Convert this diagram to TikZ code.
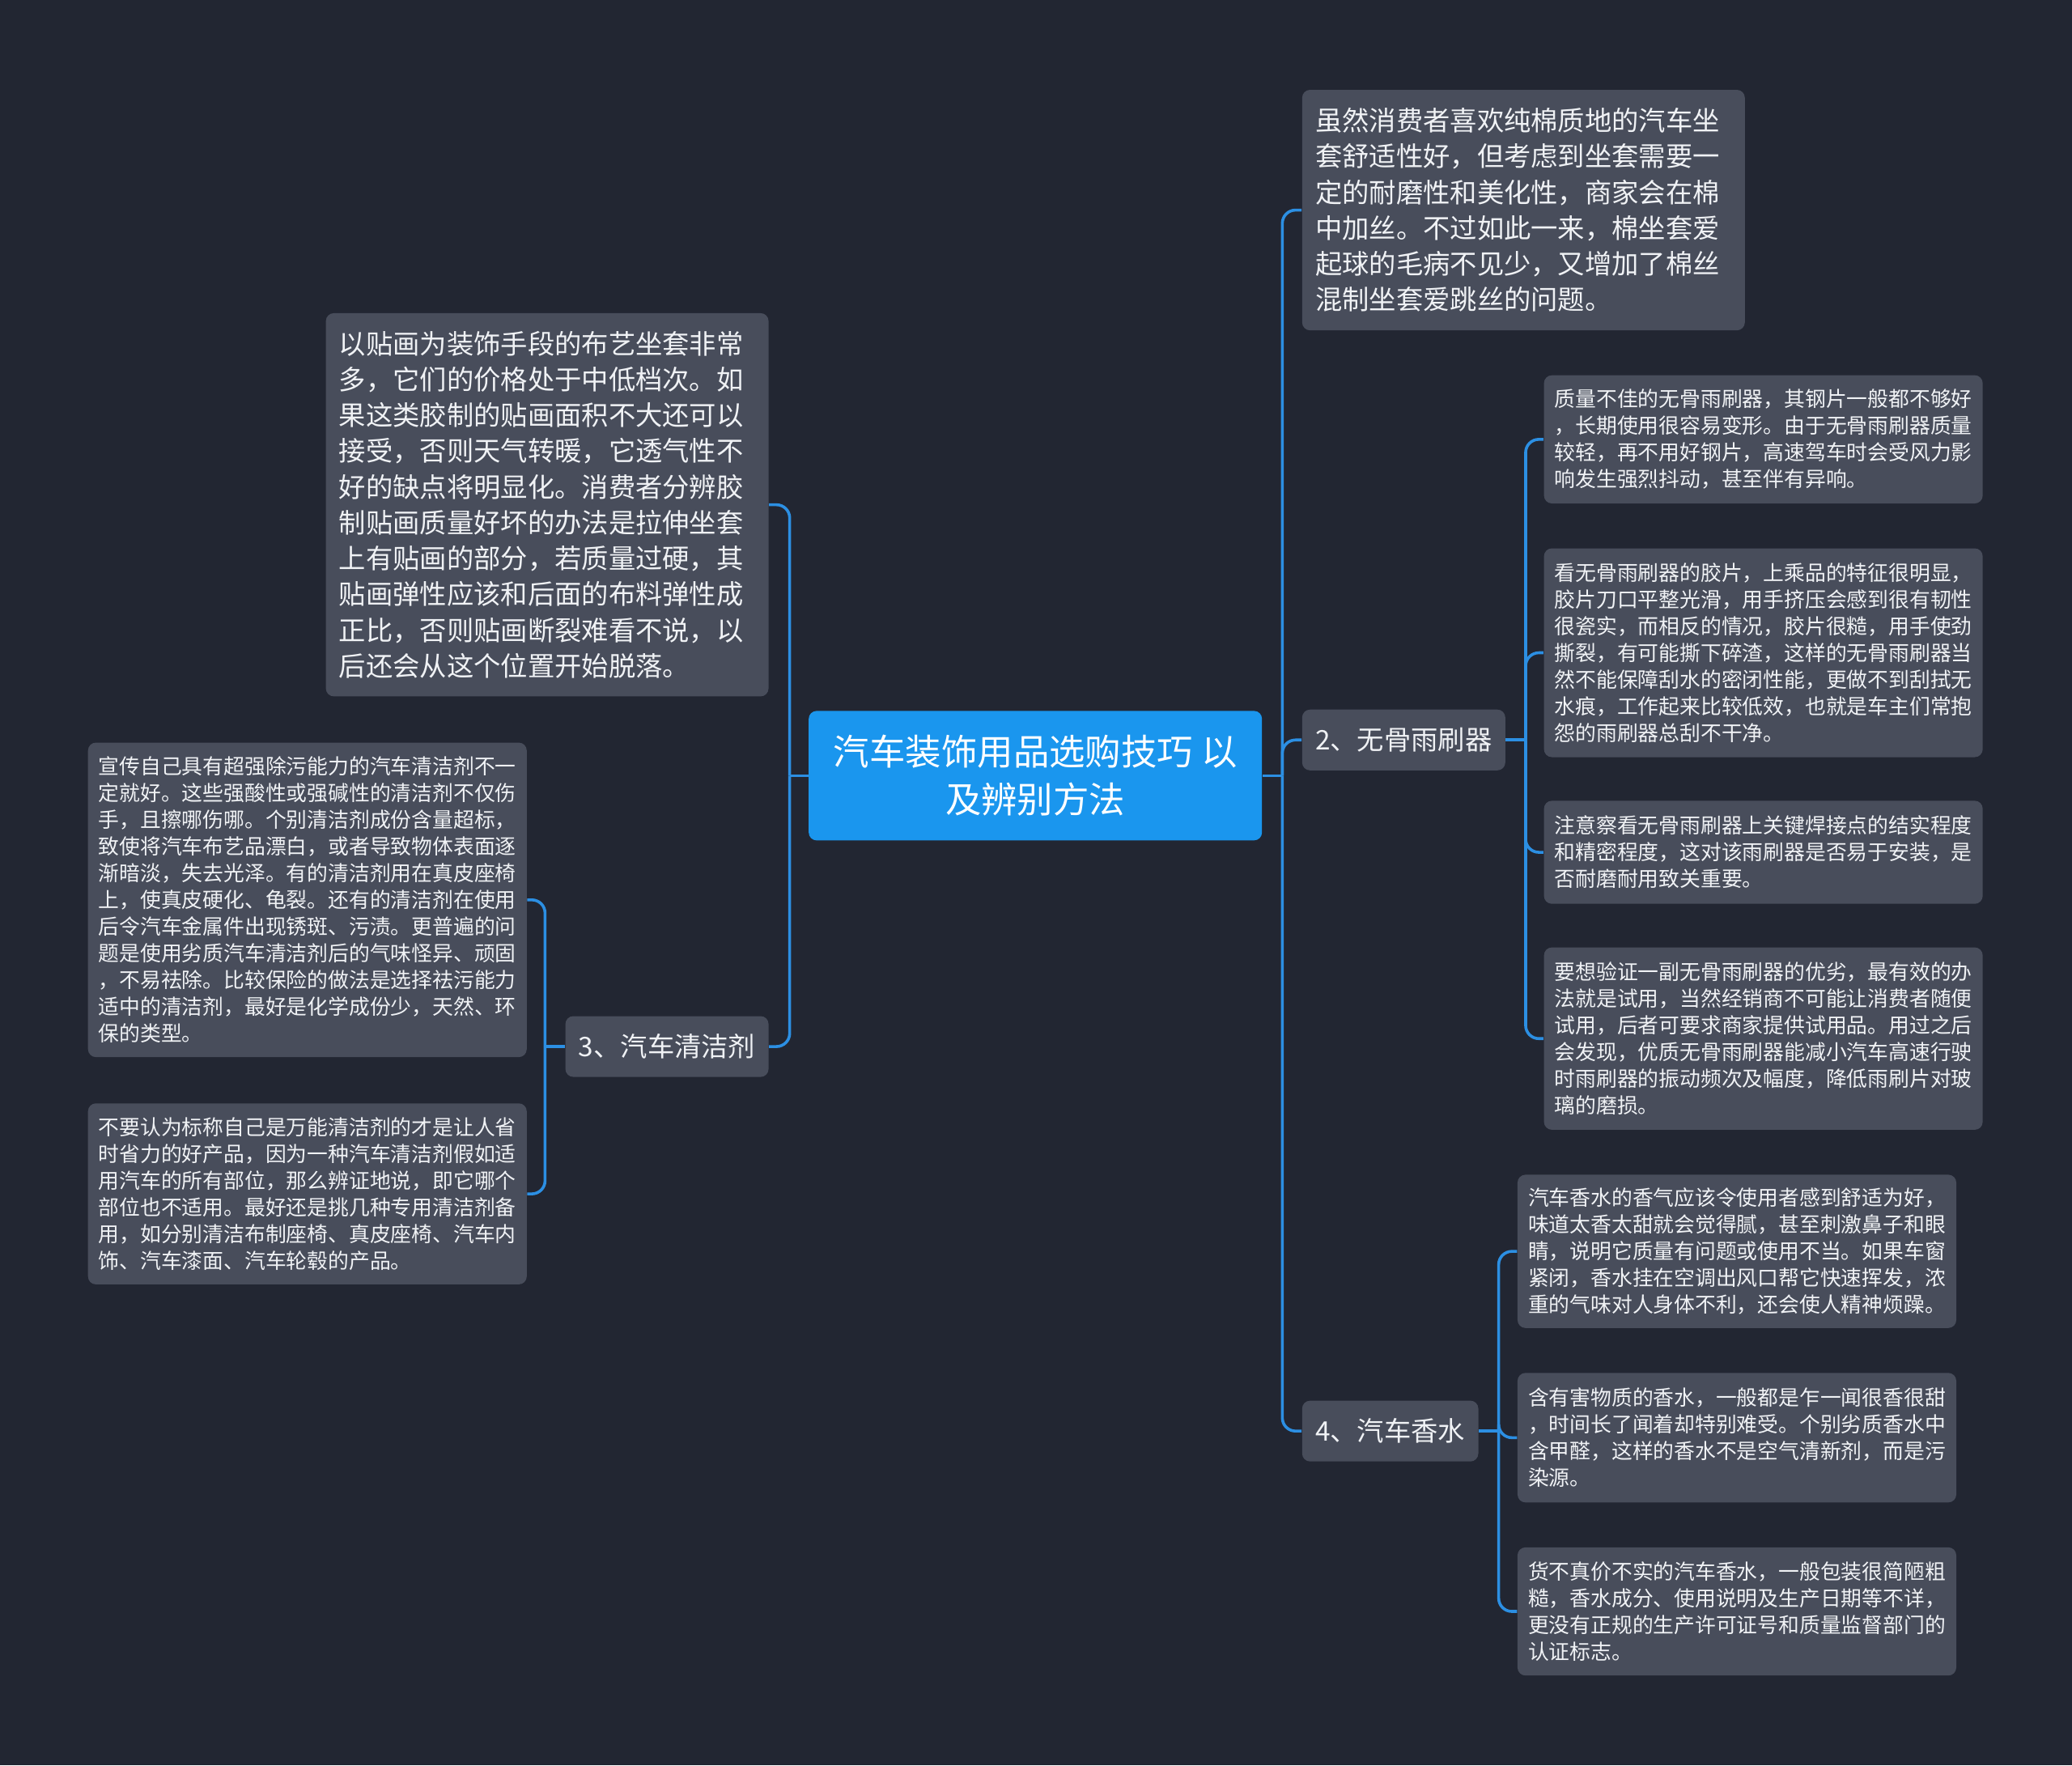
\documentclass[tikz,border=0pt]{standalone}
\usepackage{fontspec}
\setmainfont{Noto Sans CJK SC}
\definecolor{bgdark}{RGB}{34, 38, 50}
\definecolor{boxgray}{RGB}{72, 77, 91}
\definecolor{rootblue}{RGB}{26, 150, 238}
\definecolor{linkblue}{RGB}{44, 143, 227}
\definecolor{textwhite}{RGB}{240, 242, 245}
\usetikzlibrary{positioning, calc}
\hfuzz=5pt

\begin{document}
\begin{tikzpicture}[x=0.5pt, y=-0.5pt,
    rootbox/.style={fill=rootblue, text=white, rounded corners=3pt, align=center,
      minimum width=171.5pt, minimum height=49pt,
      font=\fontsize{13.6pt}{18pt}\selectfont},
    branchbox/.style={fill=boxgray, text=textwhite, rounded corners=3pt,
      inner xsep=5pt, minimum height=23pt, font=\fontsize{10.2pt}{13.5pt}\selectfont},
    bigpara/.style={fill=boxgray, text=textwhite, rounded corners=3pt, align=left,
      text width=157.5pt, inner xsep=5pt, font=\fontsize{10.2pt}{13.55pt}\selectfont},
    smallpara/.style={fill=boxgray, text=textwhite, rounded corners=3pt, align=left,
      text width=158pt, inner xsep=4pt, font=\fontsize{7.9pt}{10.1pt}\selectfont},
    link/.style={draw=linkblue, line width=1.1pt, rounded corners=5pt}]

  % background
  \fill[bgdark] (0,0) rectangle (1568,1336);

  % centre
  \node[rootbox] (root) at (783.5,587) {汽车装饰用品选购技巧 以\\及辨别方法};

  % right side
  \node[bigpara, anchor=west, minimum height=91pt] (tip) at (985,159) {虽然消费者喜欢纯棉质地的汽车坐\\套舒适性好，但考虑到坐套需要一\\定的耐磨性和美化性，商家会在棉\\中加丝。不过如此一来，棉坐套爱\\起球的毛病不见少，又增加了棉丝\\混制坐套爱跳丝的问题。};
  \node[branchbox, anchor=west] (wiper) at (985,560) {2、无骨雨刷器};
  \node[branchbox, anchor=west] (perf) at (985,1083) {4、汽车香水};

  \node[smallpara, anchor=west, minimum height=48.5pt] (wa) at (1168,332.5) {质量不佳的无骨雨刷器，其钢片一般都不够好\\，长期使用很容易变形。由于无骨雨刷器质量\\较轻，再不用好钢片，高速驾车时会受风力影\\响发生强烈抖动，甚至伴有异响。};
  \node[smallpara, anchor=west, minimum height=79pt] (wb) at (1168,494) {看无骨雨刷器的胶片，上乘品的特征很明显，\\胶片刀口平整光滑，用手挤压会感到很有韧性\\很瓷实，而相反的情况，胶片很糙，用手使劲\\撕裂，有可能撕下碎渣，这样的无骨雨刷器当\\然不能保障刮水的密闭性能，更做不到刮拭无\\水痕，工作起来比较低效，也就是车主们常抱\\怨的雨刷器总刮不干净。};
  \node[smallpara, anchor=west, minimum height=39pt] (wc) at (1168,645) {注意察看无骨雨刷器上关键焊接点的结实程度\\和精密程度，这对该雨刷器是否易于安装，是\\否耐磨耐用致关重要。};
  \node[smallpara, anchor=west, minimum height=69pt] (wd) at (1168,786) {要想验证一副无骨雨刷器的优劣，最有效的办\\法就是试用，当然经销商不可能让消费者随便\\试用，后者可要求商家提供试用品。用过之后\\会发现，优质无骨雨刷器能减小汽车高速行驶\\时雨刷器的振动频次及幅度，降低雨刷片对玻\\璃的磨损。};

  \node[smallpara, anchor=west, minimum height=58pt] (pa) at (1148,947) {汽车香水的香气应该令使用者感到舒适为好，\\味道太香太甜就会觉得腻，甚至刺激鼻子和眼\\睛，说明它质量有问题或使用不当。如果车窗\\紧闭，香水挂在空调出风口帮它快速挥发，浓\\重的气味对人身体不利，还会使人精神烦躁。};
  \node[smallpara, anchor=west, minimum height=49pt] (pb) at (1148,1088) {含有害物质的香水，一般都是乍一闻很香很甜\\，时间长了闻着却特别难受。个别劣质香水中\\含甲醛，这样的香水不是空气清新剂，而是污\\染源。};
  \node[smallpara, anchor=west, minimum height=48.5pt] (pc) at (1148,1219.5) {货不真价不实的汽车香水，一般包装很简陋粗\\糙，香水成分、使用说明及生产日期等不详，\\更没有正规的生产许可证号和质量监督部门的\\认证标志。};

  % left side
  \node[bigpara, anchor=east, minimum height=145pt] (sticker) at (582,382) {以贴画为装饰手段的布艺坐套非常\\多，它们的价格处于中低档次。如\\果这类胶制的贴画面积不大还可以\\接受，否则天气转暖，它透气性不\\好的缺点将明显化。消费者分辨胶\\制贴画质量好坏的办法是拉伸坐套\\上有贴画的部分，若质量过硬，其\\贴画弹性应该和后面的布料弹性成\\正比，否则贴画断裂难看不说，以\\后还会从这个位置开始脱落。};
  \node[branchbox, anchor=east] (clean) at (582,792) {3、汽车清洁剂};

  \node[smallpara, anchor=east, minimum height=119pt] (ca) at (399,681) {宣传自己具有超强除污能力的汽车清洁剂不一\\定就好。这些强酸性或强碱性的清洁剂不仅伤\\手，且擦哪伤哪。个别清洁剂成份含量超标，\\致使将汽车布艺品漂白，或者导致物体表面逐\\渐暗淡，失去光泽。有的清洁剂用在真皮座椅\\上，使真皮硬化、龟裂。还有的清洁剂在使用\\后令汽车金属件出现锈斑、污渍。更普遍的问\\题是使用劣质汽车清洁剂后的气味怪异、顽固\\，不易祛除。比较保险的做法是选择祛污能力\\适中的清洁剂，最好是化学成份少，天然、环\\保的类型。};
  \node[smallpara, anchor=east, minimum height=68.5pt] (cb) at (399,903.5) {不要认为标称自己是万能清洁剂的才是让人省\\时省力的好产品，因为一种汽车清洁剂假如适\\用汽车的所有部位，那么辨证地说，即它哪个\\部位也不适用。最好还是挑几种专用清洁剂备\\用，如分别清洁布制座椅、真皮座椅、汽车内\\饰、汽车漆面、汽车轮毂的产品。};

  % connectors
  \draw[link] (root.east) -- ++(15,0) coordinate (rj);
  \foreach \n in {tip, wiper, perf} \draw[link] (rj) |- (\n.west);
  \draw[link] (root.west) -- ++(-14,0) coordinate (lj);
  \foreach \n in {sticker, clean} \draw[link] (lj) |- (\n.east);
  \draw[link] (wiper.east) -- ++(15,0) coordinate (wj);
  \foreach \n in {wa, wb, wc, wd} \draw[link] (wj) |- (\n.west);
  \draw[link] (perf.east) -- ++(15,0) coordinate (pj);
  \foreach \n in {pa, pb, pc} \draw[link] (pj) |- (\n.west);
  \draw[link] (clean.west) -- ++(-15,0) coordinate (cj);
  \foreach \n in {ca, cb} \draw[link] (cj) |- (\n.east);
\end{tikzpicture}
\end{document}
